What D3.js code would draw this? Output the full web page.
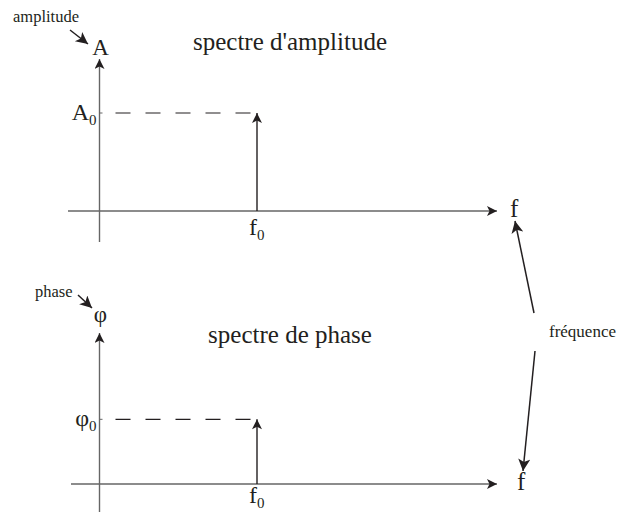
<!DOCTYPE html>
<html><head><meta charset="utf-8">
<script src="https://cdn.jsdelivr.net/npm/d3@7"></script>
<style>body{margin:0;background:#fff}svg{display:block}</style>
</head><body><svg id="c" width="618" height="512" font-family="'Liberation Serif', 'Times New Roman', Times, serif"></svg>
<script>
// Data
const panelNames = ["amplitude", "phase"];
const panelTitles = ["spectre d'amplitude", "spectre de phase"];
const axisSymbols = ["A", "φ"];
const valueLabels = ["A", "φ"];
const lineFrequencies = [1, 1];        // f0 (relative units)
const lineValues = [1, 0.66];          // A0, φ0 (relative heights)
const freqLabel = "f";
const freqTickLabel = "f";
const freqName = "fréquence";

const ink = "#231f20";
const svg = d3.select("#c");
const defs = svg.append("defs");
function marker(id, color, w, h) {
  defs.append("marker").attr("id", id).attr("viewBox", "0 0 10 10")
    .attr("refX", 10).attr("refY", 5).attr("markerWidth", w).attr("markerHeight", h)
    .attr("markerUnits", "userSpaceOnUse").attr("orient", "auto")
    .append("path").attr("d", "M0,0 L10,5 L0,10 L2.5,5 Z").attr("fill", color);
}
marker("ax", ink, 11, 10);
marker("sp", ink, 12, 10);
marker("ann", ink, 14, 12);

const x = d3.scaleLinear().domain([0, 1]).range([99.5, 257]);
const panels = [
  {y0: 211, yBottom: 242, yTop: 59, xStart: 68, symY: 55, titleY: 50, nameX: 13, nameY: 22, ann: [70, 30, 88, 44], f0dy: 24},
  {y0: 484, yBottom: 514, yTop: 333, xStart: 71, symY: 322, titleY: 343, nameX: 35, nameY: 297, ann: [78, 295, 92, 308], f0dy: 19}
];
const yScales = panels.map(p => d3.scaleLinear().domain([0, 1]).range([p.y0, p.y0 - 98]));
const xEnd = 497;

panels.forEach((p, i) => {
  const y = yScales[i];
  const g = svg.append("g");
  // x axis
  g.append("line").attr("x1", p.xStart).attr("x2", xEnd).attr("y1", y(0)).attr("y2", y(0))
    .attr("stroke", "#666").attr("stroke-width", 1.4).attr("marker-end", "url(#ax)");
  // y axis
  g.append("line").attr("x1", x(0)).attr("x2", x(0)).attr("y1", p.yBottom).attr("y2", p.yTop)
    .attr("stroke", "#666").attr("stroke-width", 1.4).attr("marker-end", "url(#ax)");
  const v = lineValues[i], f = lineFrequencies[i];
  // tick
  g.append("line").attr("x1", x(0)).attr("x2", x(0) + 3).attr("y1", y(v)).attr("y2", y(v))
    .attr("stroke", "#666").attr("stroke-width", 1);
  // dashed guide
  g.append("line").attr("x1", x(0) + 16).attr("x2", x(f) - 6).attr("y1", y(v)).attr("y2", y(v))
    .attr("stroke", ink).attr("stroke-width", 1.2).attr("stroke-dasharray", "15,15");
  // spectral line
  g.append("line").attr("x1", x(f)).attr("x2", x(f)).attr("y1", y(0)).attr("y2", y(v))
    .attr("stroke", ink).attr("stroke-width", 1.4).attr("marker-end", "url(#sp)");
  // value label
  const vl = g.append("text").attr("x", x(0) - 3).attr("y", y(v) + 7).attr("text-anchor", "end")
    .attr("font-size", 24).attr("fill", ink);
  vl.append("tspan").text(valueLabels[i]);
  vl.append("tspan").attr("font-size", 15).attr("dy", 5).text("0");
  // f0 label
  const fl = g.append("text").attr("x", x(f) - 8).attr("y", y(0) + p.f0dy).attr("font-size", 24).attr("fill", ink);
  fl.append("tspan").text(freqTickLabel);
  fl.append("tspan").attr("font-size", 15).attr("dy", 5).text("0");
  // f label
  g.append("text").attr("x", i === 0 ? 510 : 517).attr("y", i === 0 ? 217 : 490).attr("font-size", 25)
    .attr("fill", ink).text(freqLabel);
  // axis symbol
  g.append("text").attr("x", x(0) + 1).attr("y", p.symY).attr("text-anchor", "middle")
    .attr("font-size", 23).attr("fill", ink).text(axisSymbols[i]);
  // title
  g.append("text").attr("x", 290).attr("y", p.titleY).attr("text-anchor", "middle")
    .attr("font-size", 25).attr("fill", ink).text(panelTitles[i]);
  // axis name with arrow
  g.append("text").attr("x", p.nameX).attr("y", p.nameY)
    .attr("font-size", 16.5).attr("fill", ink).text(panelNames[i]);
  const a = p.ann;
  g.append("line").attr("x1", a[0]).attr("y1", a[1]).attr("x2", a[2]).attr("y2", a[3])
    .attr("stroke", ink).attr("stroke-width", 1.5).attr("marker-end", "url(#ann)");
});

// fréquence annotation
svg.append("text").attr("x", 549).attr("y", 337).attr("font-size", 17).attr("fill", ink).text(freqName);
svg.append("line").attr("x1", 534).attr("y1", 313).attr("x2", 515).attr("y2", 221)
  .attr("stroke", ink).attr("stroke-width", 1.5).attr("marker-end", "url(#ann)");
svg.append("line").attr("x1", 535).attr("y1", 351).attr("x2", 523).attr("y2", 471)
  .attr("stroke", ink).attr("stroke-width", 1.5).attr("marker-end", "url(#ann)");
</script></body></html>
